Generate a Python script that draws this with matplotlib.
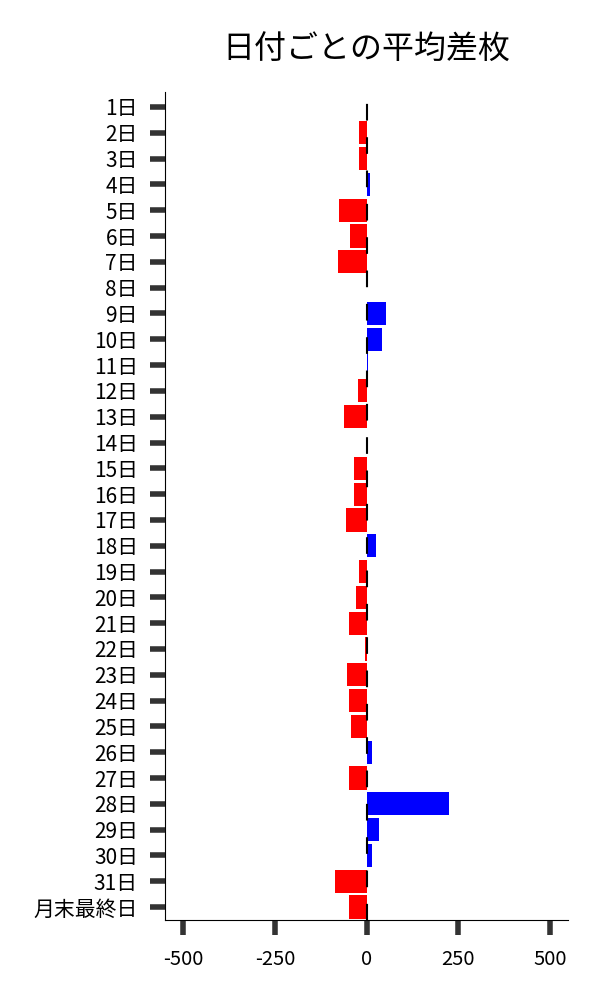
import matplotlib
matplotlib.use("Agg")
import matplotlib.pyplot as plt

plt.rcParams['font.family'] = ['Noto Sans CJK JP', 'DejaVu Sans']

# Average difference per day of month
days = [f"{i}日" for i in range(1, 32)] + ["月末最終日"]
avg_diff = [0, -21, -21, 10, -76, -46, -79, 1, 52, 41,
            3, -24, -62, 0, -35, -35, -57, 26, -22, -30,
            -49, -5, -53, -48, -42, 15, -48, 224, 33, 15,
            -86, -48]
xticks = [-500, -250, 0, 250, 500]

colors = ['blue' if v > 0 else 'red' for v in avg_diff]

fig = plt.figure(figsize=(6, 10), dpi=100)
ax = fig.add_axes([0.275, 0.08, 0.672, 0.828])

ax.barh(range(len(days)), avg_diff, height=0.9, color=colors, zorder=2)
# zero line, drawn from the top down
ax.axvline(0, ymin=1, ymax=0, color='black', linestyle=(10.3, (8, 8)),
           linewidth=1.5, zorder=3)

ax.set_yticks(range(len(days)))
ax.set_yticklabels(days, fontsize=15)
ax.set_ylim(len(days) - 0.5, -0.58)

ax.set_xticks(xticks)
ax.set_xticklabels([str(t) for t in xticks], fontsize=14.5)
ax.set_xlim(-550, 550)

ax.tick_params(axis='both', length=11, width=4, color='#333333')
ax.tick_params(axis='y', pad=8.5)
ax.tick_params(axis='x', pad=10)
ax.spines['top'].set_visible(False)
ax.spines['right'].set_visible(False)

ax.set_title('日付ごとの平均差枚', fontsize=23, pad=24)

plt.savefig('out.png', dpi=100)
plt.close()
